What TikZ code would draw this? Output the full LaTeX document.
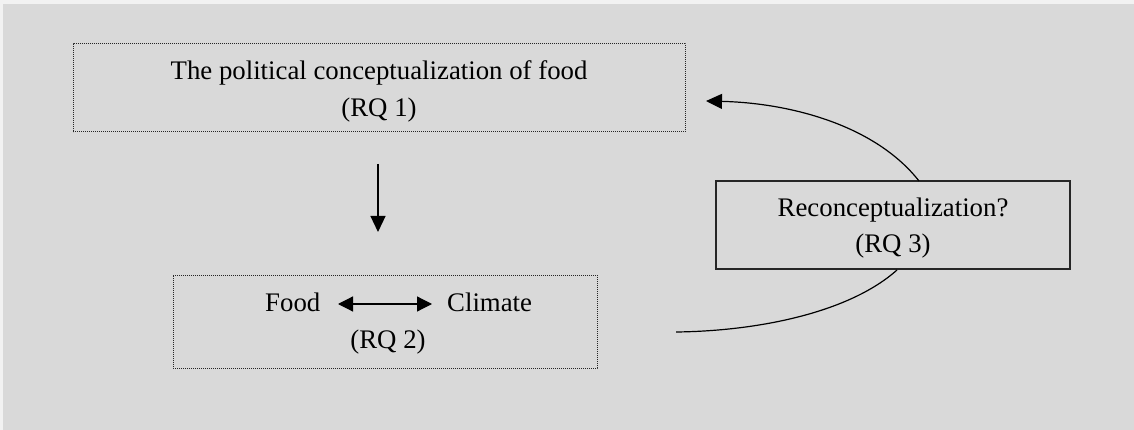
\documentclass[tikz,border=0pt]{standalone}
\usepackage{fontspec}
\setmainfont{Liberation Serif}
\usetikzlibrary{arrows.meta}
\definecolor{bg}{HTML}{D9D9D9}
\definecolor{frame}{HTML}{F2F2F2}
\begin{document}
\begin{tikzpicture}[x=1pt,y=-1pt,
  dotbox/.style={draw=black!85, line width=1pt, dash pattern=on 1.2pt off 0.8pt, inner sep=0, minimum width=#1},
  solidbox/.style={draw=black!85, line width=1.3pt, inner sep=0, minimum width=#1},
  lbl/.style={font=\fontsize{26.8}{32}\selectfont, inner sep=0, anchor=base},
  tipline/.style={-{Triangle[length=16pt,width=15pt]}, line width=1.2pt},
  dbl/.style={{Triangle[length=15pt,width=15pt]}-{Triangle[length=15pt,width=15pt]}, line width=1.2pt},
  curve/.style={line width=1.2pt}
]
\fill[frame] (0,0) rectangle (1134,430);
\fill[bg] (3,4) rectangle (1134,430);
\useasboundingbox (0,0) rectangle (1134,430);

% boxes
\node[dotbox=612pt, minimum height=88pt] (top) at (379,88) {};
\node[dotbox=424pt, minimum height=93pt] (bot) at (385,321.5) {};
\node[solidbox=354pt, minimum height=88pt] (rec) at (893,225) {};

% texts
\node[lbl] (t1) at (379,80) {The political conceptualization of food};
\node[lbl] (t2) at (379,117) {(RQ 1)};
\node[lbl, anchor=base west] (food) at (265,311) {Food};
\node[lbl, anchor=base west] (clim) at (447,311) {Climate};
\node[lbl] (rq2) at (388,348) {(RQ 2)};
\node[lbl] (r1) at (893,217) {Reconceptualization?};
\node[lbl] (r2) at (893,253) {(RQ 3)};

% connectors
\coordinate (da) at (378,164);
\coordinate (db) at (378,232);
\draw[tipline] (da) -- (db);

\coordinate (fa) at (338,304);
\coordinate (fb) at (432,304);
\draw[dbl] (fa) -- (fb);

\coordinate (up0) at (919,181);
\coordinate (up1) at (706,101);
\draw[curve, tipline] (up0) .. controls (875,125) and (790,103) .. (up1);

\coordinate (lo0) at (897,270);
\coordinate (lo1) at (676,332);
\draw[curve] (lo0) .. controls (850,312) and (760,331) .. (lo1);
\end{tikzpicture}
\end{document}
